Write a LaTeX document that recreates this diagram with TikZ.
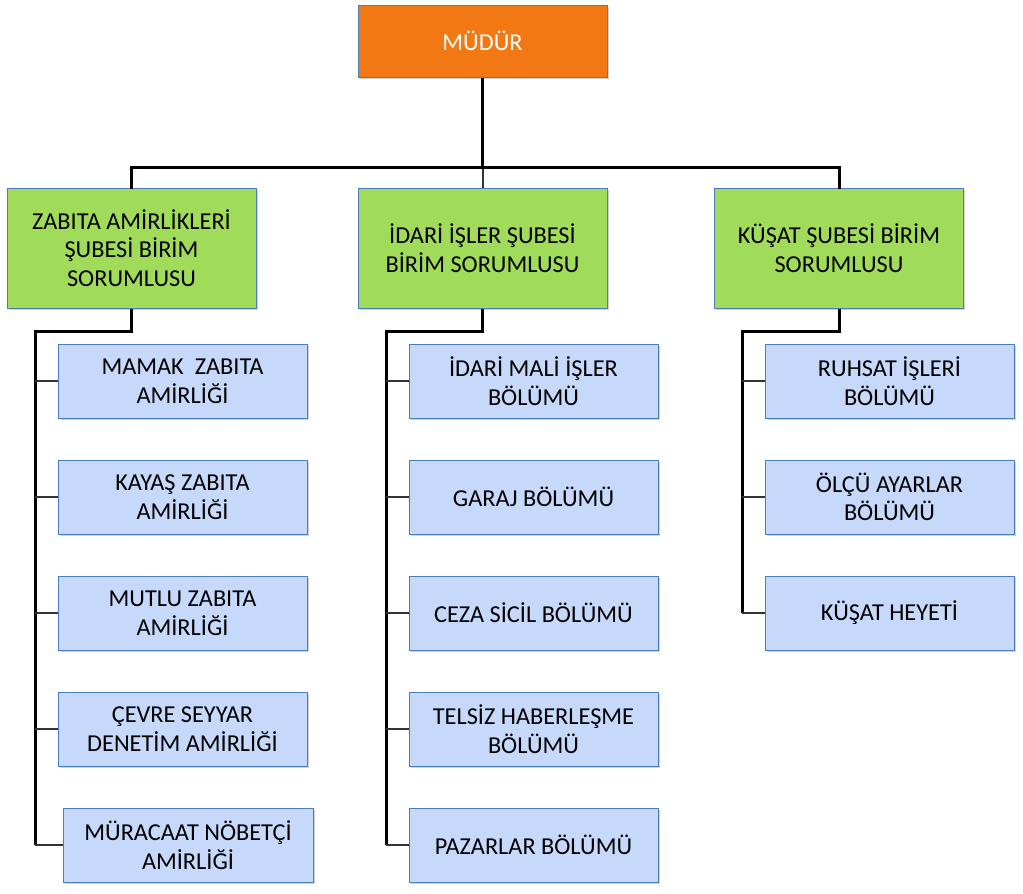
\documentclass[tikz,border=0pt]{standalone}
\usepackage{fontspec}
\setmainfont{Carlito}
\usetikzlibrary{shadows}
\definecolor{orangebox}{RGB}{241,120,18}
\definecolor{greenbox}{RGB}{160,220,90}
\definecolor{bluebox}{RGB}{198,217,250}
\definecolor{edgeblue}{RGB}{74,126,187}
\tikzset{
  box/.style={draw=edgeblue, line width=1pt, inner sep=0pt, align=center,
    font=\fontsize{24.3}{28.6}\selectfont,
    drop shadow={shadow xshift=1.5pt, shadow yshift=-1.8pt, opacity=0.18, fill=black}},
  topbox/.style={box, fill=orangebox, text=white, minimum width=249pt, minimum height=72pt},
  headbox/.style={box, fill=greenbox, minimum width=249pt, minimum height=120pt},
  unitbox/.style={box, fill=bluebox, minimum width=249pt, minimum height=74pt},
  trunk/.style={draw=black, line width=3pt},
  branch/.style={draw=black!80, line width=2pt}
}
\begin{document}
\begin{tikzpicture}[x=1pt, y=-1pt]
\useasboundingbox (0,0) rectangle (1023,894);
% top
\node[topbox] (m) at (482.5,41) {MÜDÜR};
% heads
\node[headbox] (g1) at (131.5,248) {ZABITA AMİRLİKLERİ\\ŞUBESİ BİRİM\\SORUMLUSU};
\node[headbox] (g2) at (482.5,248) {İDARİ İŞLER ŞUBESİ\\BİRİM SORUMLUSU};
\node[headbox] (g3) at (839,248) {KÜŞAT ŞUBESİ BİRİM\\SORUMLUSU};
% left column
\node[unitbox] (l1) at (182.5,381) {MAMAK\ \ ZABITA\\AMİRLİĞİ};
\node[unitbox] (l2) at (182.5,497) {KAYAŞ ZABITA\\AMİRLİĞİ};
\node[unitbox] (l3) at (182.5,613) {MUTLU ZABITA\\AMİRLİĞİ};
\node[unitbox] (l4) at (182.5,729) {ÇEVRE SEYYAR\\DENETİM AMİRLİĞİ};
\node[unitbox, minimum width=250pt] (l5) at (188,845) {MÜRACAAT NÖBETÇİ\\AMİRLİĞİ};
% middle column
\node[unitbox] (c1) at (533.5,381) {İDARİ MALİ İŞLER\\BÖLÜMÜ};
\node[unitbox] (c2) at (533.5,497) {GARAJ BÖLÜMÜ};
\node[unitbox] (c3) at (533.5,613) {CEZA SİCİL BÖLÜMÜ};
\node[unitbox] (c4) at (533.5,729) {TELSİZ HABERLEŞME\\BÖLÜMÜ};
\node[unitbox] (c5) at (533.5,845) {PAZARLAR BÖLÜMÜ};
% right column
\node[unitbox] (r1) at (889.5,381) {RUHSAT İŞLERİ\\BÖLÜMÜ};
\node[unitbox] (r2) at (889.5,497) {ÖLÇÜ AYARLAR\\BÖLÜMÜ};
\node[unitbox] (r3) at (889.5,613) {KÜŞAT HEYETİ};
% connectors top
\coordinate (hub) at (482.5,167);
\draw[trunk] (m.south) -- (hub);
\draw[branch] (hub) -- (g2.north);
\draw[trunk, line cap=rect] (g1.north) |- (hub) -| (g3.north);
% sub trunks
\coordinate (lt) at (35,331);
\coordinate (ct) at (386,331);
\coordinate (rt) at (742,331);
\draw[trunk] (g1.south) |- (lt) -- (lt |- l5.west);
\draw[trunk] (g2.south) |- (ct) -- (ct |- c5.west);
\draw[trunk] (g3.south) |- (rt) -- (rt |- r3.west);
% branches
\foreach \n in {l1,l2,l3,l4,l5} \draw[branch] (lt |- \n.west) -- (\n.west);
\foreach \n in {c1,c2,c3,c4,c5} \draw[branch] (ct |- \n.west) -- (\n.west);
\foreach \n in {r1,r2,r3} \draw[branch] (rt |- \n.west) -- (\n.west);
\end{tikzpicture}
\end{document}
